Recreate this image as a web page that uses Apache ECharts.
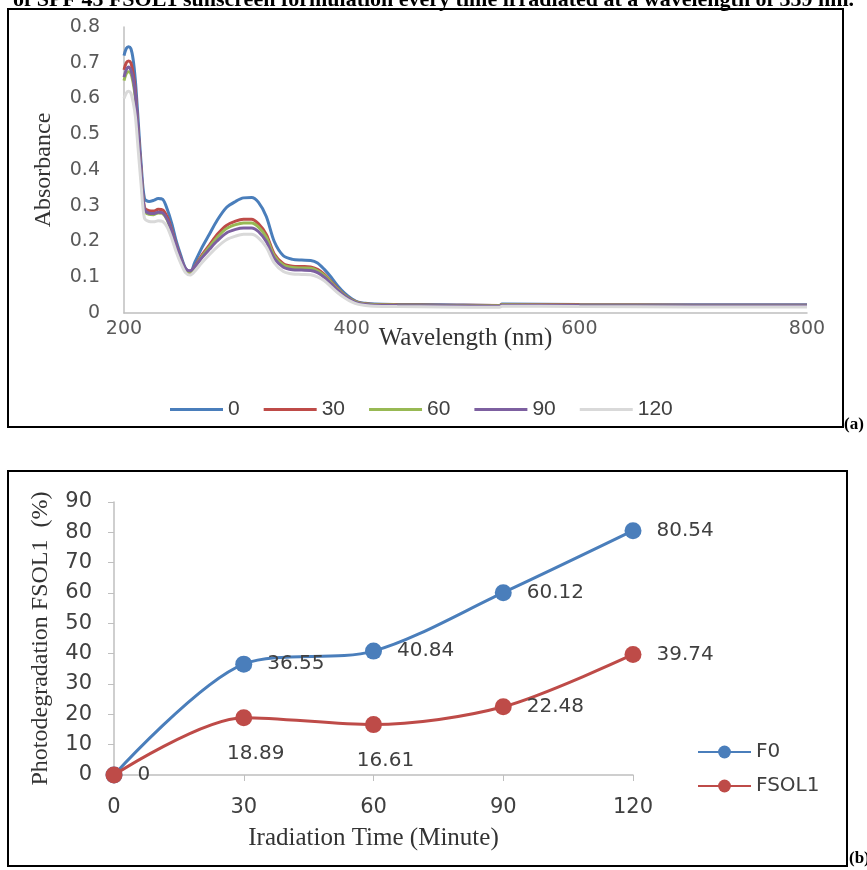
<!DOCTYPE html>
<html>
<head>
<meta charset="utf-8">
<script src="https://cdn.jsdelivr.net/npm/echarts@6/dist/echarts.min.js"></script>
<style>
html,body{margin:0;padding:0;background:#fff;}
#chart{width:867px;height:870px;}
</style>
</head>
<body>
<div id="chart"></div>
<script>
// ---------- Data: chart (a) UV spectra ----------
var wavelengths = [200,202,204,206,208,210,212,215,218,222,226,230,234,238,242,246,250,254,258,262,268,275,282,290,298,305,312,318,325,332,340,348,356,364,370,376,382,388,394,400,406,412,420,440,480,530,532,600,700,800];
var abs0 = [0.72,0.74,0.745,0.74,0.71,0.65,0.56,0.42,0.32,0.312,0.315,0.32,0.318,0.29,0.25,0.2,0.16,0.125,0.112,0.14,0.18,0.22,0.26,0.295,0.312,0.322,0.323,0.31,0.27,0.2,0.16,0.15,0.148,0.147,0.14,0.122,0.1,0.075,0.055,0.04,0.03,0.027,0.025,0.024,0.023,0.021,0.025,0.024,0.023,0.023];
var abs30 = [0.68,0.70,0.705,0.70,0.67,0.62,0.53,0.40,0.295,0.286,0.285,0.29,0.288,0.268,0.232,0.19,0.152,0.122,0.113,0.13,0.16,0.19,0.22,0.245,0.257,0.262,0.262,0.25,0.22,0.165,0.138,0.131,0.13,0.129,0.122,0.108,0.088,0.068,0.05,0.037,0.029,0.026,0.024,0.023,0.022,0.021,0.024,0.023,0.022,0.022];
var abs60 = [0.65,0.67,0.675,0.67,0.645,0.60,0.515,0.39,0.285,0.276,0.275,0.28,0.278,0.26,0.226,0.186,0.15,0.123,0.115,0.128,0.156,0.185,0.212,0.236,0.247,0.252,0.252,0.241,0.212,0.16,0.134,0.127,0.126,0.125,0.118,0.105,0.086,0.066,0.049,0.036,0.028,0.025,0.023,0.022,0.021,0.02,0.023,0.022,0.021,0.021];
var abs90 = [0.66,0.68,0.688,0.68,0.655,0.61,0.525,0.395,0.29,0.279,0.278,0.282,0.28,0.262,0.228,0.188,0.152,0.125,0.118,0.129,0.153,0.178,0.202,0.224,0.234,0.238,0.238,0.228,0.2,0.153,0.128,0.121,0.12,0.119,0.113,0.1,0.082,0.063,0.047,0.035,0.027,0.024,0.022,0.021,0.02,0.019,0.022,0.021,0.02,0.02];
var abs120 = [0.60,0.615,0.62,0.615,0.59,0.55,0.475,0.36,0.265,0.256,0.255,0.258,0.256,0.24,0.208,0.17,0.138,0.113,0.106,0.116,0.139,0.163,0.185,0.205,0.215,0.22,0.22,0.21,0.184,0.14,0.116,0.109,0.108,0.107,0.101,0.09,0.073,0.056,0.042,0.031,0.024,0.021,0.019,0.018,0.017,0.016,0.019,0.018,0.017,0.017];
var spectraNames = ['0','30','60','90','120'];

// ---------- Data: chart (b) photodegradation ----------
var times = [0,30,60,90,120];
var degF0 = [0,36.55,40.84,60.12,80.54];
var degFSOL1 = [0,18.89,16.61,22.48,39.74];
var degNames = ['F0','FSOL1'];

// label placement (style, not data)
var labPosF0 = ['right','right','right','right','right'];
var labPosFSOL1 = ['none','bottom','bottom','right','right'];

var chart = echarts.init(document.getElementById('chart'), null, {renderer:'canvas'});

var specColors = ['#4a7ebb','#be4b48','#98b954','#7d60a0','#d9d9d9'];
var specData = [abs0,abs30,abs60,abs90,abs120];
var specSeries = specData.map(function(arr,i){
  return {
    name: spectraNames[i], type:'line', xAxisIndex:0, yAxisIndex:0,
    data: wavelengths.map(function(w,j){return [w,arr[j]];}),
    smooth:0.3, symbol:'none', showSymbol:false,
    lineStyle:{width:3,color:specColors[i]}, itemStyle:{color:specColors[i]},
    z: 2+i
  };
});

function buildDeg(vals,pos){
  return times.map(function(t,j){
    var p = pos[j];
    var lab;
    if(p==='none') lab = {show:false};
    else if(p==='bottom') lab = {show:true, position:'bottom', distance:18, offset:[12,0]};
    else lab = {show:true, position:'right', distance:15};
    return {value:[t,vals[j]], label:lab};
  });
}
var degColors = ['#4a7ebb','#be4b48'];
var degSeries = [degF0,degFSOL1].map(function(arr,i){
  return {
    name: degNames[i], type:'line', xAxisIndex:1, yAxisIndex:1,
    data: buildDeg(arr, i===0?labPosF0:labPosFSOL1),
    smooth:0.3, symbol:'circle', symbolSize:17,
    lineStyle:{width:3,color:degColors[i]}, itemStyle:{color:degColors[i]},
    label:{fontFamily:'DejaVu Sans',fontSize:20,color:'#404040',formatter:function(p){return String(p.value[1]);}},
    z: 10+i
  };
});

var axisGray = '#bfbfbf';
var option = {
  backgroundColor:'#ffffff',
  animation:false,
  grid:[
    {left:124, top:27, width:683, height:286},
    {left:114, top:502, width:519, height:273}
  ],
  xAxis:[
    {gridIndex:0, type:'value', min:200, max:800, interval:200,
     axisLine:{lineStyle:{color:axisGray,width:1.5}}, axisTick:{show:false}, splitLine:{show:false},
     axisLabel:{fontFamily:'DejaVu Sans',fontSize:19,color:'#595959',margin:7},
     name:'Wavelength (nm)', nameLocation:'middle', nameGap:13, nameMoveOverlap:false,
     nameTextStyle:{fontFamily:'Liberation Serif',fontSize:25,color:'#333'}},
    {gridIndex:1, type:'value', min:0, max:120, interval:30,
     axisLine:{lineStyle:{color:axisGray,width:1.5}}, axisTick:{show:true,length:6,lineStyle:{color:axisGray}}, splitLine:{show:false},
     axisLabel:{fontFamily:'DejaVu Sans',fontSize:21,color:'#404040',margin:22},
     name:'Iradiation Time (Minute)', nameLocation:'middle', nameGap:51, nameMoveOverlap:false,
     nameTextStyle:{fontFamily:'Liberation Serif',fontSize:25,color:'#333'}}
  ],
  yAxis:[
    {gridIndex:0, type:'value', min:0, max:0.8, interval:0.1,
     axisLine:{show:true,lineStyle:{color:axisGray,width:1.5}}, axisTick:{show:false}, splitLine:{show:false},
     axisLabel:{fontFamily:'DejaVu Sans',fontSize:19,color:'#595959',margin:24},
     name:'Absorbance', nameLocation:'middle', nameGap:68, nameMoveOverlap:false,
     nameTextStyle:{fontFamily:'Liberation Serif',fontSize:24,color:'#333'}},
    {gridIndex:1, type:'value', min:0, max:90, interval:10,
     axisLine:{show:true,lineStyle:{color:axisGray,width:1.5}}, axisTick:{show:true,length:6,lineStyle:{color:axisGray}}, splitLine:{show:false},
     axisLabel:{fontFamily:'DejaVu Sans',fontSize:21,color:'#404040',margin:22},
     name:'Photodegradation FSOL1  (%)', nameLocation:'middle', nameGap:61, nameMoveOverlap:false,
     nameTextStyle:{fontFamily:'Liberation Serif',fontSize:24,color:'#333'}}
  ],
  legend:[
    {data:spectraNames, orient:'horizontal', left:165, top:394, itemWidth:53, itemHeight:3, itemGap:24, icon:'rect',
     textStyle:{fontFamily:'Liberation Sans',fontSize:21,color:'#404040'}},
    {data:degNames, orient:'vertical', left:692, top:737, itemWidth:53, itemHeight:16, itemGap:14,
     textStyle:{fontFamily:'DejaVu Sans',fontSize:20,color:'#404040'}}
  ],
  graphic:[
    {type:'text', left:'center', top:-11, style:{text:'of SPF 45 FSOL1 sunscreen formulation every time irradiated at a wavelength of 359 nm.', font:'bold 22px "Liberation Serif"', fill:'#000'}},
    {type:'rect', shape:{x:8,y:9,width:835,height:418}, style:{fill:'none',stroke:'#000',lineWidth:2}},
    {type:'rect', shape:{x:8,y:471,width:839,height:395}, style:{fill:'none',stroke:'#000',lineWidth:2}},
    {type:'text', x:844, y:416, style:{text:'(a)', font:'bold 17px "Liberation Serif"', fill:'#000'}},
    {type:'text', x:849, y:850, style:{text:'(b)', font:'bold 17px "Liberation Serif"', fill:'#000'}}
  ],
  series: specSeries.concat(degSeries)
};
chart.setOption(option);
</script>
</body>
</html>
